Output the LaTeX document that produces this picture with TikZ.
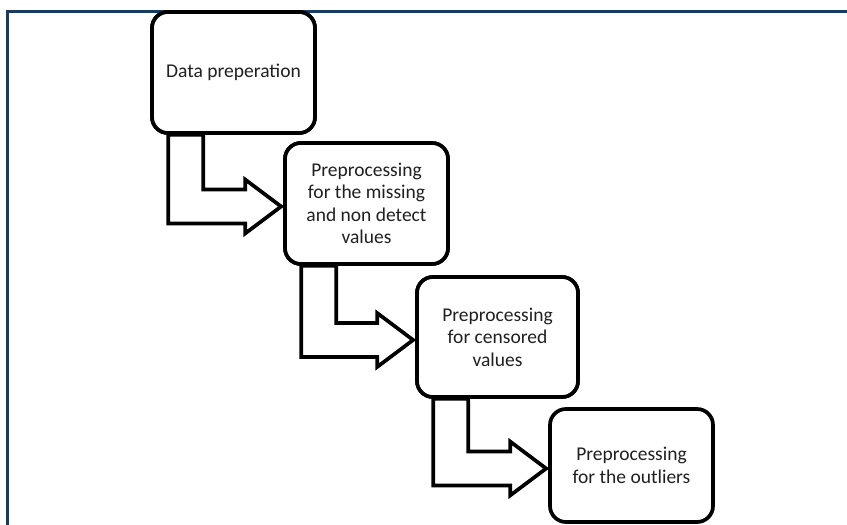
\documentclass[tikz,border=0pt]{standalone}
\usepackage{fontspec}
\setmainfont{Carlito}
\usetikzlibrary{calc}
\definecolor{framebl}{HTML}{1B3A63}
\definecolor{txt}{HTML}{202020}
\tikzset{
  stagebox/.style={draw=black, line width=3.7pt, rounded corners=16pt, fill=white,
    minimum width=163pt, minimum height=121pt, inner sep=2pt, align=center,
    text=txt, font=\fontsize{19.5pt}{22.4pt}\selectfont},
  bigarrow/.style={draw=black, line width=3.7pt, fill=white, line join=miter}
}
\begin{document}
\begin{tikzpicture}[x=1pt,y=-1pt]
\useasboundingbox (0,0) rectangle (847,525);
\clip (0,0) rectangle (847,525);
\fill[white] (0,0) rectangle (847,525);
% frame
\draw[framebl, line width=3pt] (7.5,526) -- (7.5,11.3) -- (848,11.3);
% boxes (placed first for anchors, redrawn later on top)
\path
  node[stagebox] (b1) at (233.5,72.5) {Data preperation}
  node[stagebox] (b2) at (366.5,203.5) {Preprocessing\\for the missing\\and non detect\\values}
  node[stagebox, minimum width=161pt, minimum height=120pt] (b3) at (497.5,337) {Preprocessing\\for censored\\values}
  node[stagebox, minimum height=113pt] (b4) at (631.5,465.5) {Preprocessing\\for the outliers};
% arrows
\foreach \a/\b in {b1/b2, b2/b3, b3/b4}{
  \draw[bigarrow] ([xshift=18pt]\a.south west) |- ($(\b.west)+(-38,20)$) -- ++(0,10)
     -- ($(\b.west)+(-2,3)$) -- ($(\b.west)+(-38,-24)$) -- ++(0,10)
     -| ([xshift=53pt]\a.south west) -- cycle;
}
% redraw boxes on top of arrow tails
\path
  node[stagebox] at (b1) {Data preperation}
  node[stagebox] at (b2) {Preprocessing\\for the missing\\and non detect\\values}
  node[stagebox, minimum width=161pt, minimum height=120pt] at (b3) {Preprocessing\\for censored\\values};
\end{tikzpicture}
\end{document}
